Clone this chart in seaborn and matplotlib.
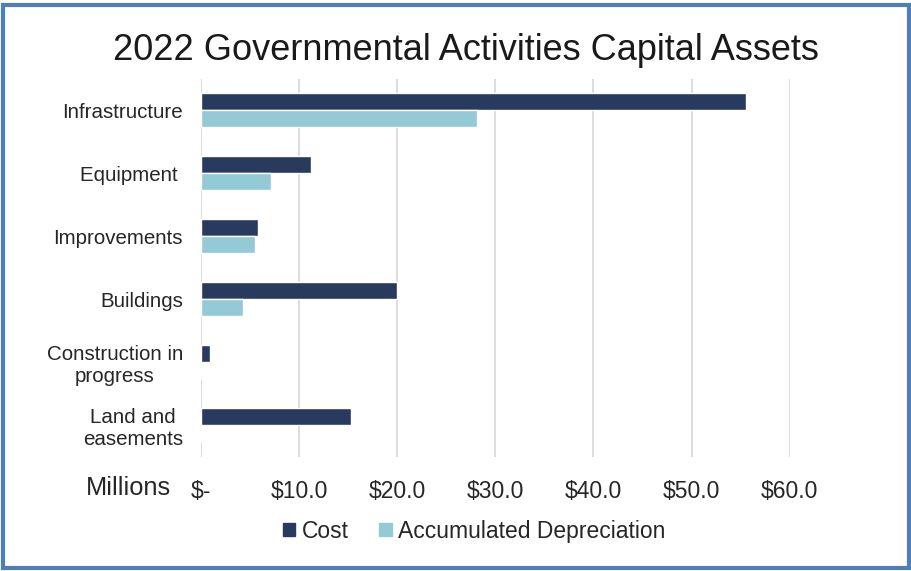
import pandas as pd
import matplotlib.pyplot as plt
import seaborn as sns
from matplotlib.patches import Rectangle
from matplotlib.ticker import FuncFormatter

# values in $ millions
categories = ['Infrastructure', 'Equipment ', 'Improvements', 'Buildings',
              'Construction in\nprogress', 'Land and\neasements']
cost = [55.5, 11.2, 5.8, 20.0, 0.9, 15.3]
accum_depr = [28.1, 7.1, 5.5, 4.3, 0.0, 0.0]
series_names = ['Cost', 'Accumulated Depreciation']
colors = ['#283a5e', '#94c9d6']

df = pd.DataFrame({
    'category': categories * 2,
    'value': cost + accum_depr,
    'series': [series_names[0]] * len(categories) + [series_names[1]] * len(categories),
})

sns.set_theme(style='white')
plt.rcParams['font.family'] = ['Liberation Sans', 'DejaVu Sans']

fig = plt.figure(figsize=(9.12, 5.71), dpi=100)
ax = fig.add_axes([0.2204, 0.2005, 0.6455, 0.662])

sns.barplot(data=df, y='category', x='value', hue='series', order=categories,
            hue_order=series_names, palette=colors, orient='h', width=0.54,
            saturation=1, ax=ax, legend=False)

ax.set_xlim(0, 60)
ax.set_xticks(range(0, 61, 10))
ax.xaxis.set_major_formatter(FuncFormatter(lambda v, _: '$-' if v == 0 else f'${v:.1f}'))
ax.grid(axis='x', color='#d9d9d9', linewidth=1.3)
ax.set_axisbelow(True)
for s in ax.spines.values():
    s.set_visible(False)
ax.set_xlabel('')
ax.set_ylabel('')
ax.tick_params(axis='x', labelsize=16.5, colors='#262626', pad=17, length=0)
ax.tick_params(axis='y', labelsize=14.8, colors='#262626', pad=13, length=0)
for lbl in ax.get_yticklabels():
    lbl.set_multialignment('center')

fig.text(0.094, 0.145, 'Millions', fontsize=18.3, color='#262626', va='center')
fig.text(0.511, 0.912, '2022 Governmental Activities Capital Assets',
         fontsize=26, color='#1a1a1a', ha='center', va='center')

handles = [Rectangle((0, 0), 1, 1, color=c) for c in colors]
fig.legend(handles, series_names, loc='center', bbox_to_anchor=(0.52, 0.07),
           ncol=2, frameon=False, fontsize=16.5, handlelength=0.55, handleheight=0.55,
           handletextpad=0.3, columnspacing=1.3, labelcolor='#262626')

# blue frame around the chart
fig.patches.append(Rectangle((0.003, 0.006), 0.994, 0.985, transform=fig.transFigure,
                             fill=False, edgecolor='#4f7fba', linewidth=3))

fig.savefig('out.png', dpi=100)
plt.close(fig)
